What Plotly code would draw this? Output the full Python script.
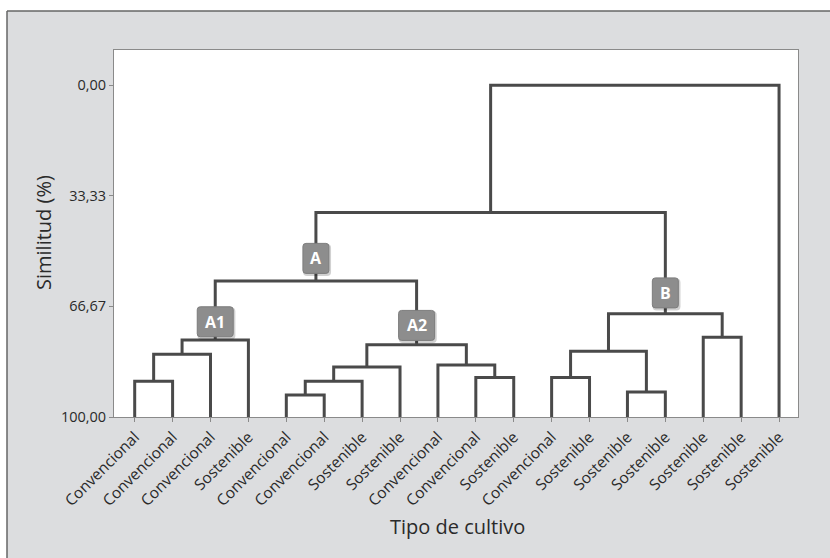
import plotly.graph_objects as go

# ---- data -------------------------------------------------------------
leaf_labels = [
    "Convencional", "Convencional", "Convencional", "Sostenible",
    "Convencional", "Convencional", "Sostenible", "Sostenible",
    "Convencional", "Convencional", "Sostenible", "Convencional",
    "Sostenible", "Sostenible", "Sostenible", "Sostenible",
    "Sostenible", "Sostenible",
]

# agglomeration steps: leaves are nodes 0..17, each step creates node 18+k
merge_left = [0, 18, 19, 4, 21, 22, 9, 8, 23, 20, 11, 13, 28, 15, 30, 27, 33]
merge_right = [1, 2, 3, 5, 6, 7, 10, 24, 25, 26, 12, 14, 29, 16, 31, 32, 17]
merge_similarity = [89.2, 81.1, 76.8, 93.4, 89.2, 84.9, 88.1, 84.3, 78.2,
                    59.0, 88.1, 92.5, 80.2, 76.0, 68.9, 38.4, 0.0]

group_names = ["A", "A1", "A2", "B"]
group_nodes = [27, 20, 26, 32]
group_label_y = [52.2, 71.3, 72.4, 62.6]

y_tickvals = [0, 33.33, 66.67, 100]
y_ticktext = ["0,00", "33,33", "66,67", "100,00"]

# ---- geometry of the tree --------------------------------------------
n_leaves = len(leaf_labels)
node_x = {i: i + 1 for i in range(n_leaves)}
node_h = {i: 100.0 for i in range(n_leaves)}

xs, ys = [], []
for k, (a, b, h) in enumerate(zip(merge_left, merge_right, merge_similarity)):
    nid = n_leaves + k
    xa, xb = node_x[a], node_x[b]
    xs += [xa, xa, xb, xb, None]
    ys += [node_h[a], h, h, node_h[b], None]
    node_x[nid] = (xa + xb) / 2
    node_h[nid] = h

LINE = "#4a4a4a"
TEXT = "#2a2a2a"
FONT = "Open Sans, Noto Sans, sans-serif"

fig = go.Figure()
fig.add_trace(go.Scatter(
    x=xs, y=ys, mode="lines",
    line=dict(color=LINE, width=3),
    hoverinfo="skip", showlegend=False,
))

# ---- frame ------------------------------------------------------------
W, H = 830, 558
ML, MR, MT, MB = 114, 32, 50, 141
pw, ph = W - ML - MR, H - MT - MB


def px(xp):
    return (xp - ML) / pw


def py(yp):
    return (H - MB - yp) / ph


shapes = [
    # white strips outside the grey panel
    dict(type="rect", xref="paper", yref="paper", layer="below",
         x0=px(-5), x1=px(7), y0=py(H + 5), y1=py(-5),
         fillcolor="white", line=dict(width=0)),
    dict(type="rect", xref="paper", yref="paper", layer="below",
         x0=px(-5), x1=px(W + 5), y0=py(11), y1=py(-5),
         fillcolor="white", line=dict(width=0)),
    # dark edge of the grey panel
    dict(type="line", xref="paper", yref="paper",
         x0=px(7), x1=px(W + 5), y0=py(11), y1=py(11),
         line=dict(color="#666666", width=1.5)),
    dict(type="line", xref="paper", yref="paper",
         x0=px(7), x1=px(7), y0=py(11), y1=py(H + 5),
         line=dict(color="#666666", width=1.5)),
]

annotations = []


def rounded_rect(w, h, r):
    a, b = w / 2, h / 2
    return (f"M {-a + r},{-b} L {a - r},{-b} Q {a},{-b} {a},{-b + r} "
            f"L {a},{b - r} Q {a},{b} {a - r},{b} L {-a + r},{b} "
            f"Q {-a},{b} {-a},{b - r} L {-a},{-b + r} Q {-a},{-b} {-a + r},{-b} Z")


for name, nid, yl in zip(group_names, group_nodes, group_label_y):
    bw = 26 if len(name) == 1 else 36
    bh = 30
    xc = node_x[nid]
    # soft shadow
    shapes.append(dict(
        type="path", xref="x", yref="y", xsizemode="pixel", ysizemode="pixel",
        xanchor=xc + 0.03, yanchor=yl + 0.5, layer="above",
        path=rounded_rect(bw + 2, bh + 2, 4),
        fillcolor="rgba(0,0,0,0.18)", line=dict(width=0),
    ))
    shapes.append(dict(
        type="path", xref="x", yref="y", xsizemode="pixel", ysizemode="pixel",
        xanchor=xc, yanchor=yl, layer="above",
        path=rounded_rect(bw, bh, 3),
        fillcolor="#8d8d8d", line=dict(color="#7d7d7d", width=1),
    ))
    annotations.append(dict(
        x=xc, y=yl, xref="x", yref="y", text=f"<b>{name}</b>",
        xanchor="center", yanchor="middle",
        showarrow=False, font=dict(family=FONT, size=16, color="white"),
    ))

# axis titles
annotations.append(dict(
    x=px(43), y=py(233), xref="paper", yref="paper", text="Similitud (%)",
    xanchor="center", yanchor="middle",
    textangle=-90, showarrow=False, font=dict(family=FONT, size=20, color=TEXT),
))
annotations.append(dict(
    x=px(457), y=py(526), xref="paper", yref="paper", text="Tipo de cultivo",
    xanchor="center", yanchor="middle",
    showarrow=False, font=dict(family=FONT, size=20, color=TEXT),
))

fig.update_layout(
    width=W, height=H,
    margin=dict(l=ML, r=MR, t=MT, b=MB),
    paper_bgcolor="#dcdddf",
    plot_bgcolor="white",
    shapes=shapes,
    annotations=annotations,
    showlegend=False,
)

fig.update_xaxes(
    range=[0.454, 18.5],
    tickvals=list(range(1, n_leaves + 1)),
    ticktext=leaf_labels,
    tickangle=-45,
    ticks="outside", ticklen=4, tickcolor="#8a8a8a", tickwidth=1,
    tickfont=dict(family=FONT, size=15.5, color=TEXT),
    showgrid=False, zeroline=False,
    showline=True, mirror=True, linecolor="#8a8a8a", linewidth=1,
)
fig.update_yaxes(
    range=[100, -10.6],
    tickvals=y_tickvals,
    ticktext=y_ticktext,
    ticks="outside", ticklen=4, tickcolor="#8a8a8a", tickwidth=1,
    tickfont=dict(family=FONT, size=14.5, color=TEXT),
    showgrid=False, zeroline=False,
    showline=True, mirror=True, linecolor="#8a8a8a", linewidth=1,
)

fig.write_html("out.html")
